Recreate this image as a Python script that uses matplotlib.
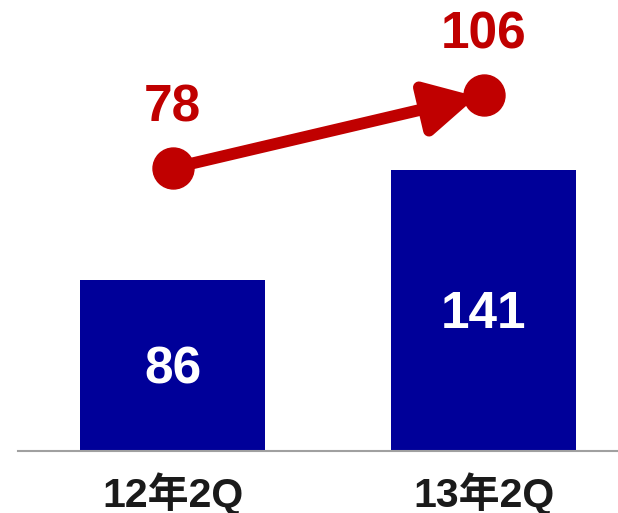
import matplotlib
matplotlib.use("Agg")
import matplotlib.pyplot as plt

categories = ["12年2Q", "13年2Q"]
bar_values = [86, 141]
line_values = [78, 106]

BLUE = "#000099"
RED = "#C00000"
FONT = ["Liberation Sans", "Noto Sans CJK JP", "DejaVu Sans"]
plt.rcParams["font.family"] = FONT

W, H = 618, 513
fig = plt.figure(figsize=(W / 100, H / 100), dpi=100)
ax = fig.add_axes([18 / W, (H - 451) / H, 600 / W, (451 - 10) / H])
x = list(range(len(categories)))

bars = ax.bar(x, bar_values, width=0.595, color=BLUE, zorder=2)
ax.set_xlim(-0.497, 1.4325)
ax.set_ylim(0, 221.6)
for xi, v in zip(x, bar_values):
    ax.annotate(str(v), (xi, v / 2), xytext=(0, -3), textcoords="offset points",
                ha="center", va="center", color="white",
                fontsize=37, fontweight="bold", zorder=3)

for s in ["top", "right", "left"]:
    ax.spines[s].set_visible(False)
ax.spines["bottom"].set_color("#A0A0A0")
ax.spines["bottom"].set_linewidth(1.5)
ax.set_yticks([])
ax.set_xticks(x)
ax.set_xticklabels(categories, fontsize=29.5, fontweight="bold", color="#1a1a1a")
ax.tick_params(axis="x", length=0, pad=15)

ax2 = ax.twinx()
ax2.set_ylim(-30.5, 138.6)
ax2.axis("off")
ax2.annotate("", xy=(x[1], line_values[1]), xytext=(x[0], line_values[0]),
             arrowprops=dict(arrowstyle="-|>,head_length=30,head_width=16",
                             mutation_scale=1, color=RED, lw=8.5,
                             shrinkA=0, shrinkB=5), zorder=4)
ax2.plot(x, line_values, "o", color=RED, markersize=29.5, linestyle="none", zorder=5)
for xi, v in zip(x, line_values):
    ax2.annotate(str(v), (xi, v), xytext=(0, 43), textcoords="offset points",
                 ha="center", va="center", color=RED, fontsize=37, fontweight="bold")

fig.savefig("out.png", dpi=100)
